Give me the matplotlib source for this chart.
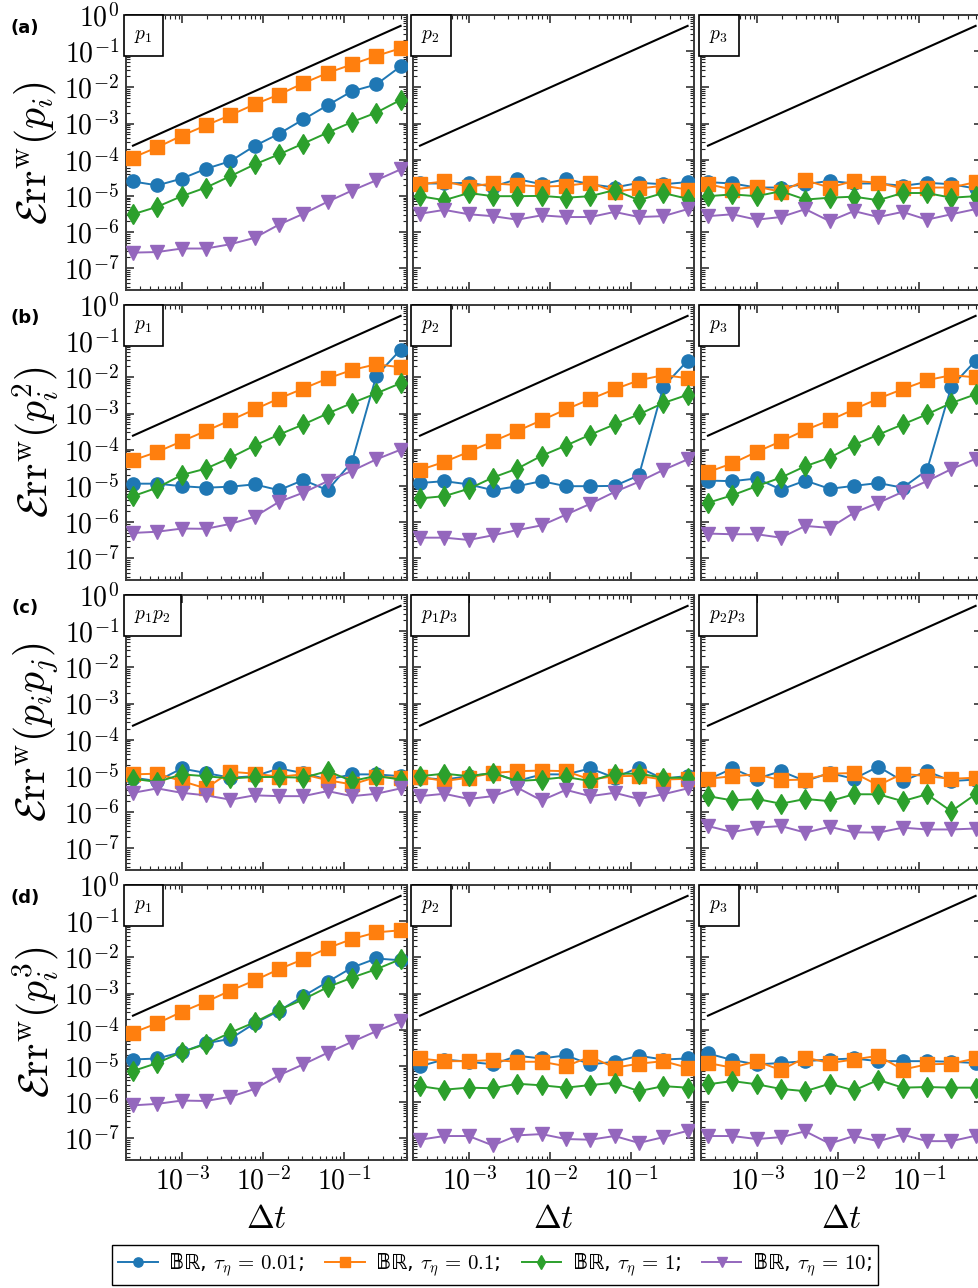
import matplotlib
matplotlib.use('Agg')
import matplotlib.pyplot as plt
import numpy as np
from matplotlib.ticker import LogLocator, FuncFormatter, NullFormatter
from matplotlib.font_manager import FontProperties

plt.rcParams['mathtext.fontset'] = 'cm'

# time steps (x) and the reference slope-1 line
dt = [2.44e-4, 4.88e-4, 9.77e-4, 1.95e-3, 3.91e-3, 7.81e-3,
      1.56e-2, 3.13e-2, 6.25e-2, 0.125, 0.25, 0.5]
ref_x = [2.44e-4, 0.5]
ref_y = [2.44e-4, 0.5]

tau_labels = ['0.01', '0.1', '1', '10']
colors = ['#1f77b4', '#ff7f0e', '#2ca02c', '#9467bd']
markers = ['o', 's', 'd', 'v']

row_tags = ['(a)', '(b)', '(c)', '(d)']
row_ylabels = [r'$\mathcal{E}\mathrm{rr}^{\mathrm{w}}(p_i)$',
               r'$\mathcal{E}\mathrm{rr}^{\mathrm{w}}(p_i^2)$',
               r'$\mathcal{E}\mathrm{rr}^{\mathrm{w}}(p_ip_j)$',
               r'$\mathcal{E}\mathrm{rr}^{\mathrm{w}}(p_i^3)$']
panel_names = [[r'$p_1$', r'$p_2$', r'$p_3$'],
               [r'$p_1$', r'$p_2$', r'$p_3$'],
               [r'$p_1p_2$', r'$p_1p_3$', r'$p_2p_3$'],
               [r'$p_1$', r'$p_2$', r'$p_3$']]

# row (a): <p_i>, panels p1, p2, p3
a_tau001 = [[2.5e-5, 1.95e-5, 3.0e-5, 5.6e-5, 9.1e-5, 2.4e-4, 5.2e-4, 1.3e-3, 3.2e-3, 7.8e-3, 1.2e-2, 3.8e-2],
            [2.2e-5, 2.2e-5, 2.3e-5, 1.8e-5, 2.9e-5, 2.1e-5, 2.9e-5, 2.1e-5, 1.7e-5, 2.3e-5, 2.1e-5, 2.4e-5],
            [2.4e-5, 2.2e-5, 1.7e-5, 1.7e-5, 2.1e-5, 2.6e-5, 2.2e-5, 2.2e-5, 1.9e-5, 2.3e-5, 2.1e-5, 1.6e-5]]
a_tau01 = [[1.15e-4, 2.2e-4, 4.6e-4, 8.9e-4, 1.7e-3, 3.4e-3, 6.3e-3, 1.3e-2, 2.5e-2, 4.3e-2, 7.4e-2, 1.2e-1],
           [2.1e-5, 2.5e-5, 1.8e-5, 2.2e-5, 2.0e-5, 1.8e-5, 1.9e-5, 2.3e-5, 1.3e-5, 1.6e-5, 1.9e-5, 1.5e-5],
           [2.1e-5, 1.5e-5, 1.8e-5, 1.3e-5, 2.7e-5, 1.7e-5, 2.6e-5, 2.3e-5, 1.6e-5, 1.7e-5, 1.7e-5, 2.4e-5]]
a_tau1 = [[3.1e-6, 5.0e-6, 9.8e-6, 1.7e-5, 3.5e-5, 7.4e-5, 1.4e-4, 2.8e-4, 5.6e-4, 1.1e-3, 2.0e-3, 4.5e-3],
          [9.8e-6, 7.6e-6, 1.2e-5, 9.8e-6, 9.8e-6, 1.0e-5, 8.9e-6, 9.8e-6, 1.45e-5, 7.6e-6, 1.2e-5, 8.3e-6],
          [9.8e-6, 1.1e-5, 9.8e-6, 1.35e-5, 7.9e-6, 8.9e-6, 9.5e-6, 7.6e-6, 1.2e-5, 1.2e-5, 8.9e-6, 9.8e-6]]
a_tau10 = [[2.7e-7, 2.8e-7, 3.5e-7, 3.5e-7, 4.6e-7, 6.9e-7, 1.6e-6, 3.2e-6, 6.9e-6, 1.4e-5, 2.7e-5, 5.4e-5],
           [3.2e-6, 4.1e-6, 3.1e-6, 2.75e-6, 2.2e-6, 2.9e-6, 2.6e-6, 2.6e-6, 3.6e-6, 2.6e-6, 2.75e-6, 4.3e-6],
           [2.75e-6, 3.1e-6, 2.2e-6, 2.6e-6, 4.3e-6, 2.0e-6, 3.8e-6, 2.6e-6, 3.6e-6, 2.2e-6, 3.1e-6, 4.3e-6]]

# row (b): <p_i^2>
b_tau001 = [[1.15e-5, 1.15e-5, 9.8e-6, 8.9e-6, 9.5e-6, 1.1e-5, 7.6e-6, 1.45e-5, 7.6e-6, 4.6e-5, 1.1e-2, 5.8e-2],
            [1.2e-5, 1.35e-5, 1.1e-5, 7.6e-6, 9.8e-6, 1.35e-5, 9.8e-6, 9.8e-6, 1.0e-5, 1.95e-5, 5.5e-3, 2.9e-2],
            [1.4e-5, 1.35e-5, 1.6e-5, 7.9e-6, 1.4e-5, 8.3e-6, 1.0e-5, 1.2e-5, 8.9e-6, 2.7e-5, 5.5e-3, 2.9e-2]]
b_tau01 = [[5.1e-5, 8.7e-5, 1.7e-4, 3.3e-4, 6.5e-4, 1.3e-3, 2.6e-3, 4.9e-3, 9.3e-3, 1.6e-2, 2.3e-2, 1.9e-2],
           [2.75e-5, 4.6e-5, 8.7e-5, 1.7e-4, 3.3e-4, 6.5e-4, 1.3e-3, 2.5e-3, 4.7e-3, 8.3e-3, 1.15e-2, 9.5e-3],
           [2.4e-5, 4.2e-5, 8.7e-5, 1.7e-4, 3.5e-4, 6.5e-4, 1.3e-3, 2.6e-3, 4.7e-3, 8.3e-3, 1.15e-2, 1.0e-2]]
b_tau1 = [[5.2e-6, 8.9e-6, 2.0e-5, 3.0e-5, 6.0e-5, 1.3e-4, 2.6e-4, 5.0e-4, 1.0e-3, 1.95e-3, 3.6e-3, 6.9e-3],
          [4.5e-6, 5.2e-6, 8.3e-6, 1.7e-5, 3.0e-5, 6.8e-5, 1.3e-4, 2.6e-4, 5.0e-4, 9.5e-4, 1.95e-3, 3.3e-3],
          [3.4e-6, 5.5e-6, 9.8e-6, 1.7e-5, 3.5e-5, 6.0e-5, 1.35e-4, 2.6e-4, 5.0e-4, 9.5e-4, 1.95e-3, 3.4e-3]]
b_tau10 = [[5.0e-7, 5.4e-7, 6.6e-7, 6.5e-7, 8.9e-7, 1.4e-6, 3.6e-6, 6.5e-6, 1.35e-5, 2.6e-5, 5.4e-5, 1.0e-4],
           [3.7e-7, 3.7e-7, 3.2e-7, 4.3e-7, 6.0e-7, 8.1e-7, 1.6e-6, 3.2e-6, 6.8e-6, 1.3e-5, 2.75e-5, 5.4e-5],
           [4.8e-7, 4.6e-7, 4.6e-7, 3.7e-7, 7.8e-7, 6.9e-7, 1.8e-6, 3.4e-6, 6.8e-6, 1.35e-5, 2.9e-5, 5.6e-5]]

# row (c): <p_i p_j>, panels p1p2, p1p3, p2p3
c_tau001 = [[8.9e-6, 7.2e-6, 1.6e-5, 1.2e-5, 8.9e-6, 9.8e-6, 1.6e-5, 1.2e-5, 7.9e-6, 1.1e-5, 1.1e-5, 9.8e-6],
            [8.9e-6, 7.9e-6, 9.8e-6, 1.2e-5, 7.2e-6, 1.1e-5, 1.1e-5, 1.6e-5, 8.9e-6, 1.7e-5, 8.3e-6, 1.0e-5],
            [7.9e-6, 1.6e-5, 8.3e-6, 1.35e-5, 7.2e-6, 1.2e-5, 8.3e-6, 1.8e-5, 7.2e-6, 1.35e-5, 7.2e-6, 7.9e-6]]
c_tau01 = [[1.1e-5, 1.15e-5, 7.2e-6, 4.5e-6, 1.3e-5, 1.15e-5, 9.5e-6, 1.1e-5, 7.6e-6, 5.8e-6, 9.3e-6, 8.9e-6],
           [9.3e-6, 7.2e-6, 8.9e-6, 1.2e-5, 1.35e-5, 1.4e-5, 1.35e-5, 7.9e-6, 9.8e-6, 1.0e-5, 7.9e-6, 8.3e-6],
           [8.3e-6, 9.8e-6, 1.1e-5, 7.6e-6, 7.9e-6, 1.15e-5, 1.2e-5, 5.5e-6, 1.15e-5, 9.8e-6, 8.3e-6, 8.9e-6]]
c_tau1 = [[8.3e-6, 6.8e-6, 1.1e-5, 9.8e-6, 8.5e-6, 9.3e-6, 9.3e-6, 8.9e-6, 1.35e-5, 7.2e-6, 1.0e-5, 7.9e-6],
          [9.8e-6, 1.15e-5, 9.8e-6, 1.2e-5, 7.2e-6, 7.9e-6, 9.3e-6, 7.2e-6, 1.15e-5, 1.15e-5, 8.9e-6, 8.9e-6],
          [2.75e-6, 2.1e-6, 2.3e-6, 1.7e-6, 2.3e-6, 2.0e-6, 3.1e-6, 3.1e-6, 2.0e-6, 3.1e-6, 1.05e-6, 3.1e-6]]
c_tau10 = [[3.4e-6, 4.5e-6, 3.4e-6, 2.9e-6, 2.2e-6, 2.9e-6, 2.75e-6, 2.75e-6, 3.8e-6, 2.75e-6, 3.2e-6, 4.5e-6],
           [2.75e-6, 3.2e-6, 2.3e-6, 2.75e-6, 4.7e-6, 2.1e-6, 4.1e-6, 2.75e-6, 3.4e-6, 2.3e-6, 3.1e-6, 4.5e-6],
           [4.1e-7, 2.8e-7, 3.7e-7, 4.1e-7, 2.7e-7, 3.9e-7, 2.75e-7, 2.7e-7, 3.7e-7, 3.3e-7, 3.3e-7, 3.5e-7]]

# row (d): <p_i^3>
d_tau001 = [[1.5e-5, 1.6e-5, 2.4e-5, 4.2e-5, 5.6e-5, 1.5e-4, 3.3e-4, 8.5e-4, 2.1e-3, 5.2e-3, 9.3e-3, 8.3e-3],
            [9.8e-6, 1.5e-5, 1.3e-5, 1.1e-5, 1.9e-5, 1.6e-5, 1.95e-5, 1.1e-5, 1.3e-5, 1.9e-5, 1.5e-5, 1.6e-5],
            [2.2e-5, 1.45e-5, 1.1e-5, 1.2e-5, 1.35e-5, 1.5e-5, 1.6e-5, 1.35e-5, 1.35e-5, 1.35e-5, 1.3e-5, 1.2e-5]]
d_tau01 = [[8.3e-5, 1.5e-4, 3.1e-4, 5.9e-4, 1.2e-3, 2.3e-3, 4.7e-3, 8.9e-3, 1.8e-2, 3.2e-2, 4.9e-2, 5.6e-2],
           [1.6e-5, 1.35e-5, 1.35e-5, 1.45e-5, 1.3e-5, 1.3e-5, 9.8e-6, 1.8e-5, 8.9e-6, 1.15e-5, 1.35e-5, 8.9e-6],
           [1.2e-5, 8.9e-6, 1.35e-5, 7.6e-6, 1.7e-5, 1.2e-5, 1.5e-5, 1.9e-5, 7.9e-6, 1.1e-5, 1.15e-5, 1.6e-5]]
d_tau1 = [[7.2e-6, 1.2e-5, 2.4e-5, 4.0e-5, 8.3e-5, 1.6e-4, 3.5e-4, 6.9e-4, 1.5e-3, 2.75e-3, 4.7e-3, 8.9e-3],
          [2.75e-6, 2.2e-6, 2.5e-6, 2.4e-6, 3.2e-6, 2.9e-6, 2.5e-6, 2.95e-6, 3.4e-6, 2.0e-6, 2.75e-6, 2.5e-6],
          [3.1e-6, 3.8e-6, 3.1e-6, 2.3e-6, 2.0e-6, 3.2e-6, 2.1e-6, 4.1e-6, 2.5e-6, 2.6e-6, 2.5e-6, 2.5e-6]]
d_tau10 = [[8.1e-7, 8.9e-7, 1.1e-6, 1.07e-6, 1.4e-6, 2.3e-6, 5.5e-6, 1.1e-5, 2.3e-5, 4.6e-5, 9.1e-5, 1.7e-4],
           [9.1e-8, 1.15e-7, 1.15e-7, 6.3e-8, 1.2e-7, 1.3e-7, 9.5e-8, 9.1e-8, 1.15e-7, 7.4e-8, 1.07e-7, 1.6e-7],
           [1.15e-7, 1.15e-7, 9.5e-8, 1.07e-7, 1.55e-7, 7.1e-8, 1.15e-7, 8.3e-8, 1.26e-7, 8.3e-8, 8.3e-8, 1.17e-7]]

rows = [[a_tau001, a_tau01, a_tau1, a_tau10],
        [b_tau001, b_tau01, b_tau1, b_tau10],
        [c_tau001, c_tau01, c_tau1, c_tau10],
        [d_tau001, d_tau01, d_tau1, d_tau10]]

W, H = 979, 1288
fig = plt.figure(figsize=(W / 100, H / 100), dpi=100)

lefts = [126, 413, 701]
tops = [15, 305, 595, 885]
aw, ah = 281, 275
spine_col = '#3a3a3a'

pow_fmt = FuncFormatter(lambda v, pos: r'$10^{%d}$' % int(round(np.log10(v))))

handles = []
for r in range(4):
    for c in range(3):
        ax = fig.add_axes([lefts[c] / W, 1 - (tops[r] + ah) / H, aw / W, ah / H])
        ax.set_xscale('log')
        ax.set_yscale('log')
        ax.plot(ref_x, ref_y, color='k', lw=1.5, zorder=2)
        for s in range(4):
            ln, = ax.plot(dt, rows[r][s][c], color=colors[s], marker=markers[s],
                          ms=9.5 if markers[s] != 'd' else 10, lw=1.4, zorder=3)
            if r == 0 and c == 0:
                handles.append(ln)
        ax.set_xlim(2.0e-4, 0.6)
        ax.set_ylim(2.5e-8, 1.0)

        ax.yaxis.set_major_locator(LogLocator(base=10, numticks=20))
        ax.yaxis.set_minor_locator(LogLocator(base=10, subs=np.arange(2, 10), numticks=20))
        ax.xaxis.set_major_locator(LogLocator(base=10, numticks=20))
        ax.xaxis.set_minor_locator(LogLocator(base=10, subs=np.arange(2, 10), numticks=20))
        ax.yaxis.set_minor_formatter(NullFormatter())
        ax.xaxis.set_minor_formatter(NullFormatter())
        if c == 0:
            ax.yaxis.set_major_formatter(pow_fmt)
        else:
            ax.yaxis.set_major_formatter(NullFormatter())
        if r == 3:
            ax.xaxis.set_major_formatter(pow_fmt)
        else:
            ax.xaxis.set_major_formatter(NullFormatter())

        ax.tick_params(which='both', direction='in', top=True, right=True,
                       color='#222222', labelsize=20)
        ax.tick_params(which='major', length=6, width=1.1, pad=5)
        ax.tick_params(which='minor', length=3, width=0.8)
        for sp in ax.spines.values():
            sp.set_color(spine_col)
            sp.set_linewidth(1.4)

        ax.text(0.03, 0.96, panel_names[r][c], transform=ax.transAxes,
                ha='left', va='top', fontsize=14,
                bbox=dict(boxstyle='square,pad=0.55', fc='white', ec='black', lw=1.2))

    fig.text(25 / W, 1 - (tops[r] + 13) / H, row_tags[r], fontsize=13,
             fontweight='bold', ha='center', va='center')
    fig.text(36 / W, 1 - (tops[r] + ah / 2) / H, row_ylabels[r], fontsize=30,
             rotation=90, ha='center', va='center')

for c in range(3):
    fig.text((lefts[c] + aw / 2) / W, 1 - 1218 / H, r'$\Delta t$', fontsize=24,
             ha='center', va='center')

labels = ['\U0001D539\u211D, ' + r'$\tau_\eta\, =\, %s$;' % t for t in tau_labels]
leg_font = FontProperties(family=['DejaVu Sans', 'STIXGeneral'], size=15)
fig.legend(handles, labels, loc='lower center', bbox_to_anchor=(495 / W, 3 / H),
           ncol=4, frameon=True, fancybox=False, edgecolor='black', prop=leg_font,
           handlelength=1.9, handletextpad=0.5, columnspacing=1.0,
           borderpad=0.3, borderaxespad=0.0, markerscale=0.7, framealpha=1)

fig.savefig('out.png', dpi=100)
